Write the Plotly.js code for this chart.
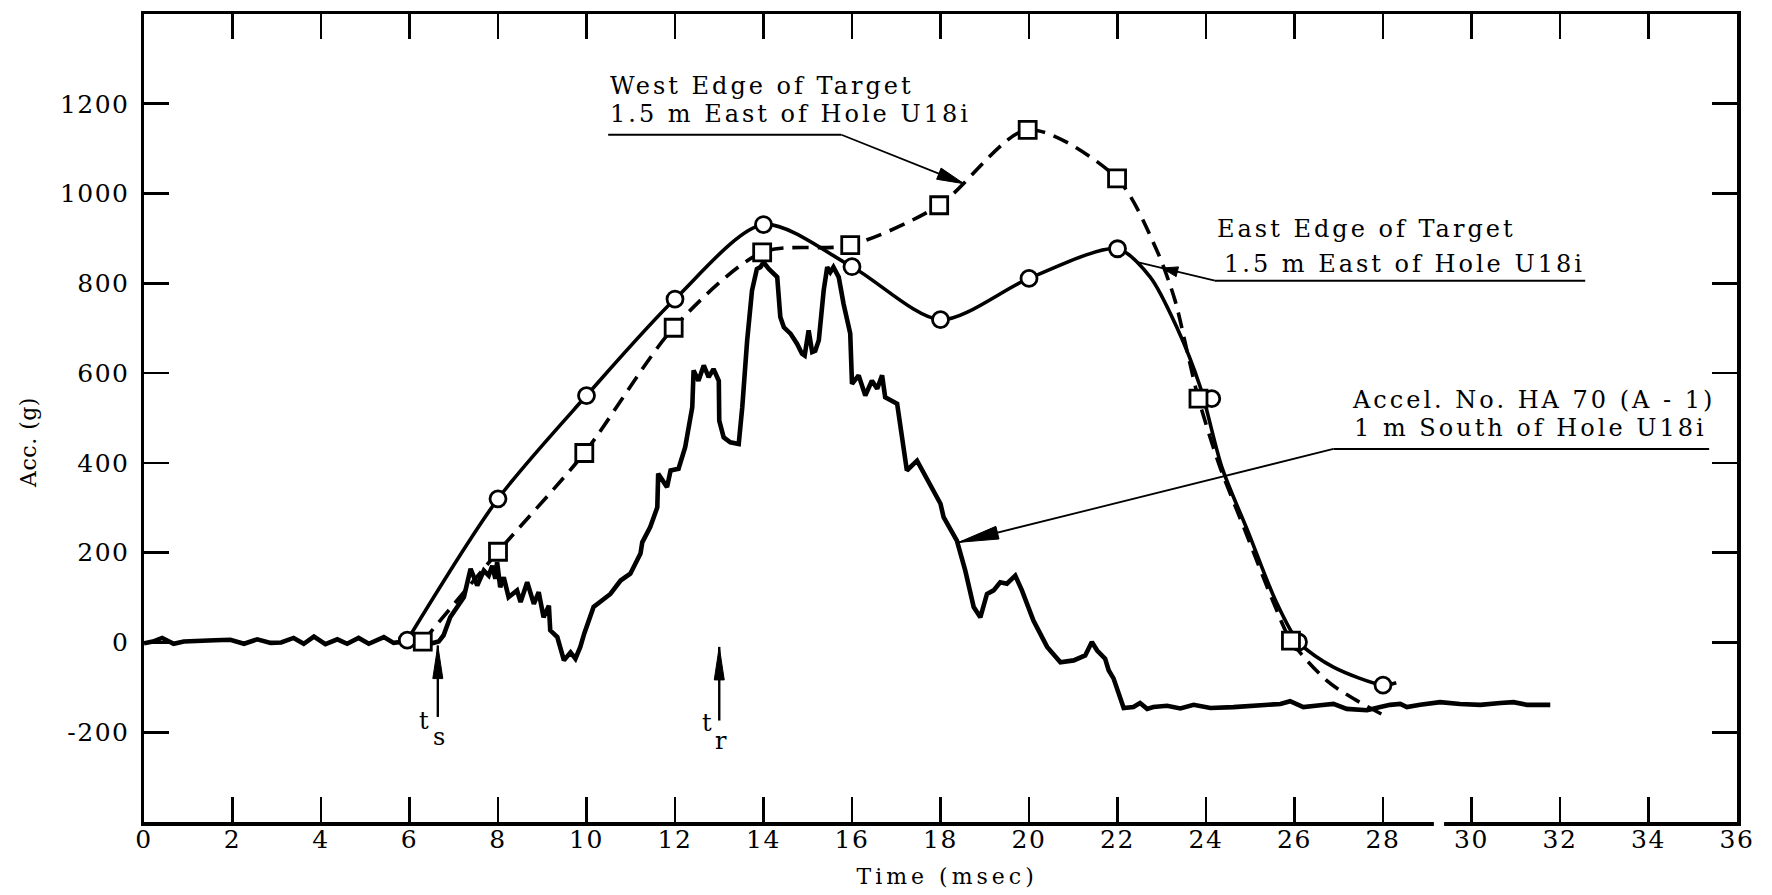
<!DOCTYPE html>
<html>
<head>
<meta charset="utf-8">
<script src="https://cdn.plot.ly/plotly-3.0.1.min.js"></script>
<style>
  html, body { margin: 0; padding: 0; background: #fff; }
  #chart { width: 1772px; height: 895px; }
  .annotation-text { letter-spacing: 3px; }
  .xtick text, .ytick text { letter-spacing: 1.5px; }
  .g-ytitle text { letter-spacing: 0.5px; }
  .g-ytitle { transform: translateY(24px); }
</style>
</head>
<body>
<div id="chart"></div>
<script>
// ---- Ground acceleration vs. time (msec) ----

// East edge of target, 1.5 m east of hole U18i (open circles)
const eastT = [5.95, 8.0, 10.0, 12.0, 14.0, 16.0, 18.0, 20.0, 22.0, 24.13, 26.09, 28.0];
const eastV = [5, 320, 550, 765, 931, 837, 719, 811, 877, 543, 1, -95];
// solid curve traced through the east-edge readings
const eastCurveT = [5.95, 8.0, 10.0, 12.0, 14.0, 16.0, 18.0, 20.0, 22.0, 22.74, 23.34, 23.87,
                    24.36, 24.97, 25.57, 26.09, 26.88, 28.0, 28.3];
const eastCurveV = [5, 320, 550, 765, 931, 837, 719, 811, 877, 814, 702, 569,
                    390, 242, 94, 1, -55, -95, -90];

// West edge of target, 1.5 m east of hole U18i (open squares)
const westT = [6.3, 8.0, 9.95, 11.97, 13.97, 15.96, 17.97, 19.97, 21.99, 23.83, 25.92];
const westV = [2, 202, 422, 701, 869, 885, 974, 1142, 1034, 543, 4];
// dashed curve traced through the west-edge readings
const westCurveT = [6.3, 8.0, 9.95, 11.97, 13.97, 15.96, 17.97, 19.97, 21.99, 22.89, 23.3, 23.57,
                    23.83, 24.3, 24.9, 25.5, 25.92, 26.73, 27.33, 28.09];
const westCurveV = [2, 202, 422, 701, 869, 885, 974, 1142, 1034, 873, 762, 650,
                    543, 395, 245, 95, 4, -85, -125, -166];

// Accelerometer HA 70 (A-1), 1 m south of hole U18i
const accelT = [
  0.00, 0.20, 0.41, 0.67, 0.90, 1.20, 1.60, 1.95, 2.26, 2.56, 2.86, 3.10, 3.38, 3.61, 3.84,
  4.10, 4.37, 4.59, 4.85, 5.08, 5.42, 5.64, 5.90, 6.20, 6.50, 6.66, 6.77, 6.92, 7.08, 7.23,
  7.38, 7.53, 7.68, 7.79, 7.87, 7.94, 7.98, 8.05, 8.13, 8.24, 8.43, 8.51, 8.66, 8.81, 8.92,
  9.03, 9.15, 9.18, 9.34, 9.49, 9.64, 9.75, 9.86, 9.95, 10.16, 10.54, 10.77, 10.99, 11.22, 11.26,
  11.44, 11.60, 11.62, 11.82, 11.90, 12.08, 12.23, 12.39, 12.42, 12.53, 12.65, 12.76, 12.87, 12.99, 13.00,
  13.10, 13.25, 13.44, 13.52, 13.63, 13.74, 13.85, 13.93, 14.00, 14.12, 14.31, 14.38, 14.46, 14.61, 14.76,
  14.87, 14.93, 15.02, 15.10, 15.17, 15.25, 15.36, 15.44, 15.51, 15.58, 15.70, 15.81, 15.96, 16.00, 16.15,
  16.30, 16.45, 16.57, 16.68, 16.75, 17.02, 17.13, 17.24, 17.47, 17.70, 18.00, 18.07, 18.37, 18.56, 18.75,
  18.90, 19.05, 19.20, 19.35, 19.50, 19.69, 19.84, 20.10, 20.41, 20.71, 21.01, 21.27, 21.42, 21.54, 21.72,
  21.80, 21.91, 22.05, 22.14, 22.36, 22.51, 22.67, 22.81, 23.12, 23.42, 23.72, 24.10, 24.62, 25.23, 25.68,
  25.90, 26.20, 26.58, 26.88, 27.18, 27.64, 27.94, 28.16, 28.39, 28.54, 28.84, 29.29, 29.74, 30.20, 30.65,
  30.95, 31.25, 31.78
];
const accelV = [
  -2, 2, 10, -3, 2, 4, 5, 6, -3, 7, -1, 0, 10, -3, 13,
  -4, 7, -3, 10, -3, 12, -1, 2, 0, -2, 2, 16, 56, 79, 101,
  164, 127, 160, 149, 171, 142, 179, 123, 145, 101, 116, 90, 134, 86, 112,
  56, 82, 27, 12, -40, -22, -36, -10, 20, 79, 108, 138, 153, 198, 223,
  257, 301, 376, 346, 383, 387, 435, 524, 606, 583, 617, 591, 609, 583, 494,
  457, 446, 442, 524, 672, 784, 832, 836, 847, 832, 814, 725, 702, 688, 665,
  643, 639, 695, 647, 650, 673, 784, 836, 825, 836, 814, 754, 688, 576, 595,
  550, 583, 565, 595, 546, 532, 450, 383, 405, 361, 309, 279, 227, 160, 79,
  56, 108, 116, 134, 131, 149, 116, 49, -10, -44, -40, -29, 1, -18, -36,
  -62, -80, -125, -146, -144, -135, -148, -144, -141, -147, -139, -146, -144, -140, -137,
  -131, -144, -140, -137, -148, -151, -144, -139, -137, -144, -139, -133, -137, -139, -135,
  -133, -139, -139
];

// Axis ticks
const yTickVals = [-200, 0, 200, 400, 600, 800, 1000, 1200];
const yTickText = ['-200', '0', '200', '400', '600', '800', '1000', '1200'];
const xRange = [0, 36];
const yRange = [-400, 1400];
const xBreak = [29.15, 29.38];   // small break drawn in the time axis

// ---- Page geometry ----
const W = 1772, H = 895;
const margin = { l: 144, r: 35, t: 14, b: 73 };
const pxT = (W - margin.l - margin.r) / (xRange[1] - xRange[0]);
const pxV = (H - margin.t - margin.b) / (yRange[1] - yRange[0]);
const FONT = 'DejaVu Serif, Liberation Serif, serif';
const INK = '#000';

// Labelled call-outs: text lines, underline, leader and arrow head
const callouts = [
  { lines: ['West Edge of Target', '1.5 m East of Hole U18i'],
    textAt: [[10.49, 1240], [10.49, 1178]],
    rule: [[10.49, 1131], [15.76, 1131]],
    leader: [[15.76, 1131], [18.53, 1022]],
    head: { at: [18.53, 1022], len: 27, half: 6 } },
  { lines: ['East Edge of Target', '1.5 m East of Hole U18i'],
    textAt: [[24.21, 920], [24.36, 844]],
    rule: [[24.2, 806], [32.57, 806]],
    leader: [[24.2, 806], [22.45, 847]],
    head: { at: [23.0, 834], len: 16, half: 5 } },
  { lines: ['Accel. No. HA 70 (A - 1)', '1 m South of Hole U18i'],
    textAt: [[27.26, 539], [27.31, 477]],
    rule: [[26.88, 431], [35.37, 431]],
    leader: [[26.88, 431], [18.41, 223]],
    head: { at: [18.41, 223], len: 40, half: 6.5 } }
];

// Event markers t_s and t_r below the traces
const events = [
  { sub: 's', t: 6.64, tipV: -7,  tailV: -166, tAt: [6.36, -176], subAt: [6.70, -211] },
  { sub: 'r', t: 13.0, tipV: -10, tailV: -174, tAt: [12.76, -180], subAt: [13.06, -219] }
];

// Narrow filled arrow head, sized in pixels, anchored at the tip
function arrowHead(tip, from, len, half) {
  const dx = (tip[0] - from[0]) * pxT;
  const dy = (tip[1] - from[1]) * pxV;
  const n = Math.hypot(dx, dy);
  const ux = dx / n, uy = dy / n;
  const bx = -ux * len, by = -uy * len;
  const px = -uy * half, py = ux * half;
  const f = v => v.toFixed(2);
  return {
    type: 'path', xref: 'x', yref: 'y',
    xsizemode: 'pixel', ysizemode: 'pixel',
    xanchor: tip[0], yanchor: tip[1],
    path: `M0,0 L${f(bx + px)},${f(by + py)} L${f(bx - px)},${f(by - py)} Z`,
    fillcolor: INK, line: { color: INK, width: 1 }, layer: 'above'
  };
}

function segment(a, b, width) {
  return { type: 'line', xref: 'x', yref: 'y', x0: a[0], y0: a[1], x1: b[0], y1: b[1],
           line: { color: INK, width: width }, layer: 'above' };
}

const shapes = [];
const annotations = [];

callouts.forEach(c => {
  c.lines.forEach((txt, i) => {
    annotations.push({ x: c.textAt[i][0], y: c.textAt[i][1], xref: 'x', yref: 'y',
      text: txt, showarrow: false, xanchor: 'left', yanchor: 'middle',
      font: { family: FONT, size: 24, color: INK } });
  });
  shapes.push(segment(c.rule[0], c.rule[1], 2));
  shapes.push(segment(c.leader[0], c.leader[1], 1.8));
  shapes.push(arrowHead(c.head.at, c.leader[0], c.head.len, c.head.half));
});

events.forEach(e => {
  shapes.push(segment([e.t, e.tailV], [e.t, e.tipV], 2.4));
  shapes.push(arrowHead([e.t, e.tipV], [e.t, e.tailV], 33, 5));
  annotations.push({ x: e.tAt[0], y: e.tAt[1], xref: 'x', yref: 'y', text: 't',
    showarrow: false, font: { family: FONT, size: 24, color: INK } });
  annotations.push({ x: e.subAt[0], y: e.subAt[1], xref: 'x', yref: 'y', text: e.sub,
    showarrow: false, font: { family: FONT, size: 24, color: INK } });
});

// Break in the time axis between 28 and 30
shapes.push({ type: 'rect', xref: 'paper', yref: 'paper',
  x0: xBreak[0] / xRange[1], x1: xBreak[1] / xRange[1], y0: -0.012, y1: 0.012,
  fillcolor: '#fff', line: { width: 0 }, layer: 'above' });

// Time-axis title with wider letter spacing
const xTitleIndex = annotations.length;
annotations.push({ xref: 'paper', yref: 'paper', x: 0.504, y: -0.068,
  text: 'Time (msec)', showarrow: false,
  xanchor: 'center', yanchor: 'middle', font: { family: FONT, size: 22, color: INK } });
const titleCss = document.createElement('style');
titleCss.textContent =
  `.annotation[data-index="${xTitleIndex}"] .annotation-text { letter-spacing: 4px; }`;
document.head.appendChild(titleCss);

const traces = [
  { x: accelT, y: accelV, mode: 'lines', type: 'scatter',
    line: { color: INK, width: 4.6, shape: 'linear' }, hoverinfo: 'skip' },
  { x: eastCurveT, y: eastCurveV, mode: 'lines', type: 'scatter',
    line: { color: INK, width: 3.6, shape: 'spline', smoothing: 0.8 } },
  { x: westCurveT, y: westCurveV, mode: 'lines', type: 'scatter',
    line: { color: INK, width: 3.6, shape: 'spline', smoothing: 0.8, dash: '16px,9px' } },
  { x: eastT, y: eastV, mode: 'markers', type: 'scatter',
    marker: { symbol: 'circle', size: 16, color: '#fff', line: { color: INK, width: 2.8 } } },
  { x: westT, y: westV, mode: 'markers', type: 'scatter',
    marker: { symbol: 'square', size: 17, color: '#fff', line: { color: INK, width: 2.8 } } }
];

const axisCommon = {
  ticks: 'inside', ticklen: 25, tickwidth: 2.6, tickcolor: INK,
  showline: true, linewidth: 3.5, linecolor: INK, mirror: 'ticks',
  showgrid: false, zeroline: false, fixedrange: true, automargin: false,
  tickfont: { family: FONT, size: 25, color: INK }
};

const layout = {
  width: W, height: H, margin: margin,
  paper_bgcolor: '#fff', plot_bgcolor: '#fff',
  showlegend: false,
  font: { family: FONT, color: INK },
  xaxis: Object.assign({}, axisCommon, {
    range: xRange, tickmode: 'linear', tick0: 0, dtick: 2, ticklabelstandoff: -8
  }),
  yaxis: Object.assign({}, axisCommon, {
    range: yRange, tickmode: 'array', tickvals: yTickVals, ticktext: yTickText,
    ticklabelstandoff: 6,
    title: { text: 'Acc. (g)', font: { family: FONT, size: 22, color: INK }, standoff: 18 }
  }),
  shapes: shapes,
  annotations: annotations
};

Plotly.newPlot('chart', traces, layout, { staticPlot: true, displayModeBar: false });
</script>
</body>
</html>
